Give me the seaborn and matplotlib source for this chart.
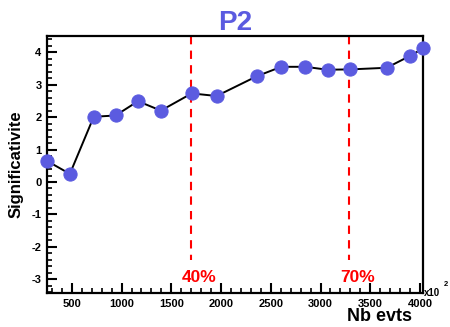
import matplotlib
matplotlib.use("Agg")
import matplotlib.pyplot as plt
import seaborn as sns
import pandas as pd
from matplotlib.ticker import MultipleLocator

# datos
nb_evts = [250, 480, 720, 940, 1165, 1395, 1705, 1955, 2360, 2605, 2845, 3070, 3300, 3665, 3895, 4035]
signif = [0.65, 0.25, 2.01, 2.05, 2.49, 2.20, 2.73, 2.65, 3.26, 3.55, 3.55, 3.46, 3.47, 3.52, 3.88, 4.12]
cortes_x = [1700, 3290]
cortes_lab = ["40%", "70%"]

df = pd.DataFrame({"Nb evts": nb_evts, "Significativite": signif})

sns.set_style("white")
plt.rcParams["font.family"] = ["Liberation Sans", "DejaVu Sans"]
plt.rcParams["axes.unicode_minus"] = False
plt.rcParams["text.color"] = "black"
plt.rcParams["axes.labelcolor"] = "black"

fig = plt.figure(figsize=(4.5, 3.27), dpi=100)
ax = fig.add_axes([0.1044, 0.104, 0.8356, 0.786])

blue = "#5b5be0"
sns.lineplot(data=df, x="Nb evts", y="Significativite", ax=ax, color="black",
             linewidth=1.4, marker="o", markersize=9.5, markerfacecolor=blue,
             markeredgecolor=blue, clip_on=False, zorder=3)

ax.set_xlim(250, 4030)
ax.set_ylim(-3.42, 4.5)

for xc, lab in zip(cortes_x, cortes_lab):
    ax.plot([xc, xc], [4.5, -2.4], color="red", linestyle=(0, (4, 3)), linewidth=1.5, zorder=2)
    ax.text(xc + 80, -2.95, lab, color="red", fontsize=12.5, fontweight="bold",
            ha="center", va="center")

ax.xaxis.set_major_locator(MultipleLocator(500))
ax.xaxis.set_minor_locator(MultipleLocator(100))
ax.yaxis.set_major_locator(MultipleLocator(1))
ax.yaxis.set_minor_locator(MultipleLocator(0.2))
ax.tick_params(axis="both", which="both", bottom=True, left=True, top=False, right=False,
               direction="in", colors="black")
ax.tick_params(axis="both", which="major", length=7, width=1.5, labelsize=8, pad=4)
ax.tick_params(axis="both", which="minor", length=3.5, width=1.2)
for lbl in ax.get_xticklabels() + ax.get_yticklabels():
    lbl.set_fontweight("bold")

for sp in ax.spines.values():
    sp.set_linewidth(1.6)
    sp.set_color("black")

ax.set_xlabel("Nb evts", fontsize=13, fontweight="bold", labelpad=0)
ax.xaxis.set_label_coords(0.97, -0.06, transform=ax.transAxes)
ax.xaxis.label.set_ha("right")
ax.xaxis.label.set_va("top")
ax.set_ylabel("Significativite", fontsize=12, fontweight="bold", labelpad=6)
ax.set_title("P2", fontsize=20, fontweight="bold", color=blue, pad=3)
ax.text(1.003, 0.0, "x10", transform=ax.transAxes, fontsize=7, fontweight="bold",
        ha="left", va="center")
ax.text(1.055, 0.02, "2", transform=ax.transAxes, fontsize=5.5, fontweight="bold",
        ha="left", va="bottom")

fig.savefig("out.png", dpi=100)
